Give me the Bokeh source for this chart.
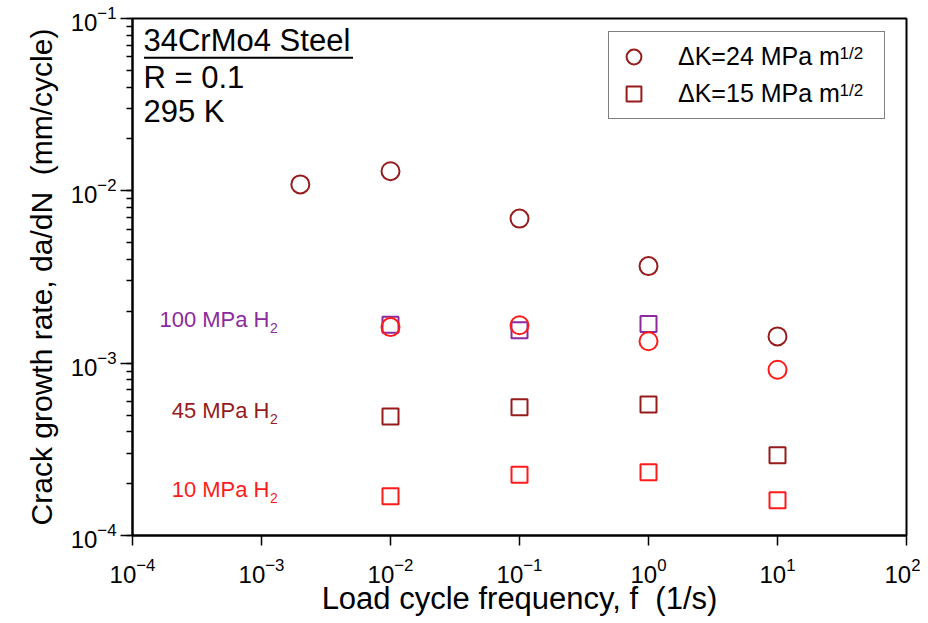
from bokeh.plotting import figure
from bokeh.models import Range1d, LogTicker, Label, Legend, LegendItem, BoxAnnotation
from bokeh.embed import file_html
from bokeh.resources import INLINE

# ---- data ----
freq_24_45 = [0.002, 0.01, 0.1, 1, 10]
rate_24_45 = [0.0109, 0.0130, 0.0069, 0.00366, 0.00143]
freq_24_10 = [0.01, 0.1, 1, 10]
rate_24_10 = [0.00162, 0.00166, 0.00134, 0.000916]
freq_15_100 = [0.01, 0.1, 1]
rate_15_100 = [0.00167, 0.00155, 0.00169]
freq_15_45 = [0.01, 0.1, 1, 10]
rate_15_45 = [0.00049, 0.000555, 0.000576, 0.000292]
freq_15_10 = [0.01, 0.1, 1, 10]
rate_15_10 = [0.000169, 0.000225, 0.000233, 0.00016]

legend_labels = ["\u0394K=24 MPa m", "\u0394K=15 MPa m"]
pressure_labels = ["100 MPa H", "45 MPa H", "10 MPa H"]
x_title = "Load cycle frequency, f \u00a0(1/s)"
y_title = "Crack growth rate, da/dN \u00a0(mm/cycle)"

DARK = "#961b1b"
RED = "#ff1a1a"
PURPLE = "#8b2a9e"
FONT = "Liberation Sans"

p = figure(width=920, height=623, x_axis_type="log", y_axis_type="log",
           x_range=Range1d(1e-4, 1e2), y_range=Range1d(1e-4, 1e-1),
           output_backend="svg", toolbar_location=None, title=None,
           min_border_left=132, min_border_right=14, min_border_top=18, min_border_bottom=88)
p.background_fill_color = "white"
p.border_fill_color = "white"
p.grid.visible = False
p.outline_line_color = "black"
p.outline_line_width = 2

for ax in (p.xaxis[0], p.yaxis[0]):
    ax.axis_line_width = 2
    ax.major_tick_in = 0
    ax.minor_tick_in = 0
    ax.major_tick_line_width = 1.5
    ax.minor_tick_line_width = 1.5
    ax.major_label_text_font = FONT
    ax.major_label_text_font_size = "24px"
    ax.major_label_text_color = "black"
    ax.axis_label_text_font = FONT
    ax.axis_label_text_font_style = "normal"
    ax.axis_label_text_color = "black"

p.xaxis.ticker = LogTicker(num_minor_ticks=0)
p.xaxis.major_tick_out = 10
p.xaxis.minor_tick_line_color = None
p.xaxis.major_label_standoff = 12
p.xaxis.axis_label_standoff = -5
p.xaxis.axis_label = x_title
p.xaxis.axis_label_text_font_size = "31px"

p.yaxis.ticker = LogTicker(num_minor_ticks=10)
p.yaxis.major_tick_out = 12
p.yaxis.minor_tick_out = 6
p.yaxis.major_label_standoff = 4
p.yaxis.axis_label_standoff = 10
p.yaxis.axis_label = y_title
p.yaxis.axis_label_text_font_size = "30px"

# ---- markers ----
r_sq100 = p.scatter(freq_15_100, rate_15_100, marker="square", size=16,
                    fill_color=None, line_color=PURPLE, line_width=2)
r_sq45 = p.scatter(freq_15_45, rate_15_45, marker="square", size=16,
                   fill_color=None, line_color=DARK, line_width=2)
r_sq10 = p.scatter(freq_15_10, rate_15_10, marker="square", size=16,
                   fill_color=None, line_color=RED, line_width=2)
r_c45 = p.scatter(freq_24_45, rate_24_45, marker="circle", size=18,
                  fill_color=None, line_color=DARK, line_width=2)
r_c10 = p.scatter(freq_24_10, rate_24_10, marker="circle", size=18,
                  fill_color=None, line_color=RED, line_width=2)

# ---- legend ----
legend = Legend(items=[LegendItem(label=legend_labels[0], renderers=[r_c45]),
                       LegendItem(label=legend_labels[1], renderers=[r_sq45])],
                location=(476, 416), orientation="vertical",
                padding=6, glyph_width=37, glyph_height=37, label_height=28,
                label_standoff=26, label_width=200, spacing=-2, margin=0,
                label_text_font=FONT, label_text_font_size="25px",
                label_text_color="black",
                border_line_color="black", border_line_width=1.5,
                background_fill_alpha=0)
p.add_layout(legend, "center")

for yy in (482.5, 445):
    p.add_layout(Label(x=707, y=yy, x_units="screen", y_units="screen", text="1/2",
                       text_font=FONT, text_font_size="17px", text_color="black",
                       text_align="left", text_baseline="middle", level="overlay"))

# ---- annotation block ----
info = [("34CrMo4 Steel", 495.3), ("R = 0.1", 457.8), ("295 K", 424.2)]
for txt, yy in info:
    p.add_layout(Label(x=11, y=yy, x_units="screen", y_units="screen", text=txt,
                       text_font=FONT, text_font_size="31px", text_color="black",
                       text_align="left", text_baseline="middle"))
p.add_layout(BoxAnnotation(left=11.5, right=220.5, bottom=476.7, top=478.7,
                           left_units="screen", right_units="screen",
                           bottom_units="screen", top_units="screen",
                           fill_color="black", fill_alpha=1, line_color=None))

# ---- pressure labels ----
plabels = [(pressure_labels[0], PURPLE, 216.2), (pressure_labels[1], DARK, 125.3),
           (pressure_labels[2], RED, 46.3)]
for txt, col, yy in plabels:
    p.add_layout(Label(x=137, y=yy, x_units="screen", y_units="screen", text=txt,
                       text_font=FONT, text_font_size="22px", text_color=col,
                       text_align="right", text_baseline="middle"))
    p.add_layout(Label(x=137.5, y=yy - 8.4, x_units="screen", y_units="screen", text="2",
                       text_font=FONT, text_font_size="14px", text_color=col,
                       text_align="left", text_baseline="middle"))

open("out.html", "w").write(file_html(p, INLINE))
